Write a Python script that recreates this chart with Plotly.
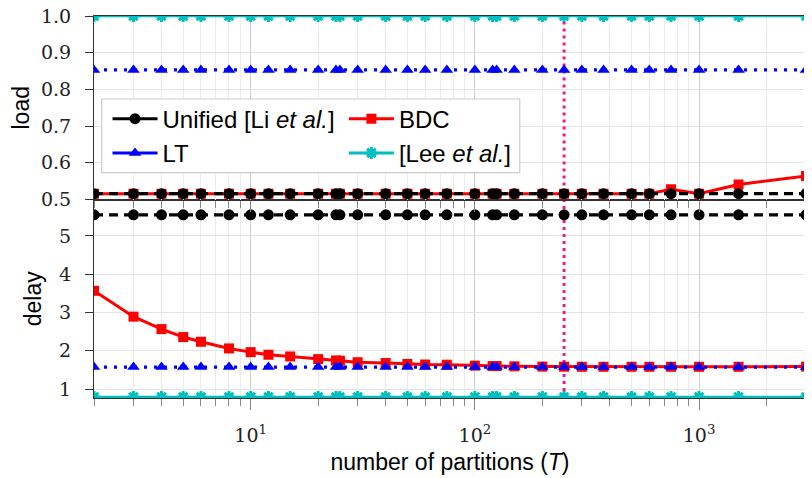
import plotly.graph_objects as go
import math

# ---------------- data ----------------
T = [2, 3, 4, 5, 6, 8, 10, 12, 15, 20, 24, 25, 30, 40, 50, 60, 75, 100, 120, 125,
     150, 200, 250, 300, 375, 500, 600, 750, 1000, 1500, 3000]

load_unified = [0.516, 0.516, 0.516, 0.516, 0.516, 0.516, 0.516, 0.516, 0.516, 0.516, 0.516,
                0.516, 0.516, 0.516, 0.516, 0.516, 0.516, 0.516, 0.516, 0.516, 0.516, 0.516,
                0.516, 0.516, 0.516, 0.516, 0.516, 0.516, 0.516, 0.516, 0.516]
load_bdc = [0.516, 0.516, 0.516, 0.516, 0.516, 0.516, 0.516, 0.516, 0.516, 0.516, 0.516,
            0.516, 0.516, 0.516, 0.516, 0.516, 0.516, 0.516, 0.516, 0.516, 0.516, 0.516,
            0.516, 0.516, 0.516, 0.516, 0.516, 0.528, 0.516, 0.541, 0.564]
load_lt = [0.853, 0.853, 0.853, 0.853, 0.853, 0.853, 0.853, 0.853, 0.853, 0.853, 0.853,
           0.853, 0.853, 0.853, 0.853, 0.853, 0.853, 0.853, 0.853, 0.853, 0.853, 0.853,
           0.853, 0.853, 0.853, 0.853, 0.853, 0.853, 0.853, 0.853, 0.853]
load_lee = [1.0, 1.0, 1.0, 1.0, 1.0, 1.0, 1.0, 1.0, 1.0, 1.0, 1.0,
            1.0, 1.0, 1.0, 1.0, 1.0, 1.0, 1.0, 1.0, 1.0, 1.0, 1.0,
            1.0, 1.0, 1.0, 1.0, 1.0, 1.0, 1.0, 1.0, 1.0]

delay_unified = [5.55, 5.55, 5.55, 5.55, 5.55, 5.55, 5.55, 5.55, 5.55, 5.55, 5.55,
                 5.55, 5.55, 5.55, 5.55, 5.55, 5.55, 5.55, 5.55, 5.55, 5.55, 5.55,
                 5.55, 5.55, 5.55, 5.55, 5.55, 5.55, 5.55, 5.55, 5.55]
delay_bdc = [3.565, 2.89, 2.565, 2.357, 2.234, 2.06, 1.963, 1.895, 1.85, 1.78, 1.745,
             1.74, 1.70, 1.68, 1.655, 1.64, 1.635, 1.61, 1.60, 1.60, 1.592, 1.585,
             1.582, 1.58, 1.58, 1.58, 1.58, 1.58, 1.58, 1.58, 1.585]
delay_lt = [1.572, 1.572, 1.572, 1.572, 1.572, 1.572, 1.572, 1.572, 1.572, 1.572, 1.572,
            1.572, 1.572, 1.572, 1.572, 1.572, 1.572, 1.572, 1.572, 1.572, 1.572, 1.572,
            1.572, 1.572, 1.572, 1.572, 1.572, 1.572, 1.572, 1.572, 1.572]
delay_lee = [0.79, 0.79, 0.79, 0.79, 0.79, 0.79, 0.79, 0.79, 0.79, 0.79, 0.79,
             0.79, 0.79, 0.79, 0.79, 0.79, 0.79, 0.79, 0.79, 0.79, 0.79, 0.79,
             0.79, 0.79, 0.79, 0.79, 0.79, 0.79, 0.79, 0.79, 0.79]

T_MARK = 250
LOAD_RANGE = [0.5, 1.0]
DELAY_RANGE = [0.765, 5.95]
X_RANGE = [2, 3000]

x_tickvals = [10, 100, 1000]
x_ticktext = ["10<sup>1</sup>", "10<sup>2</sup>", "10<sup>3</sup>"]
load_ticks = [0.5, 0.6, 0.7, 0.8, 0.9, 1.0]
load_ticktext = ["0.5", "0.6", "0.7", "0.8", "0.9", "1.0"]
delay_ticks = [1, 2, 3, 4, 5]
delay_ticktext = ["1", "2", "3", "4", "5"]

names = ["Unified [Li <i>et al.</i>]", "BDC", "LT", "[Lee <i>et al.</i>]"]

# ---------------- styles ----------------
C_BLACK = "#000000"
C_RED = "#FF0000"
C_BLUE = "#0000FF"
C_CYAN = "#00BFBF"
C_PINK = "#EE1A8C"

sty = {
    "uni": dict(line=dict(color=C_BLACK, width=3.2, dash="9px,6px"),
                marker=dict(symbol="circle", size=11, color=C_BLACK)),
    "bdc": dict(line=dict(color=C_RED, width=3),
                marker=dict(symbol="square", size=10, color=C_RED)),
    "lt": dict(line=dict(color=C_BLUE, width=3.2, dash="3px,7px"),
               marker=dict(symbol="triangle-up", size=11, color=C_BLUE)),
    "lee": dict(line=dict(color=C_CYAN, width=2.5),
                marker=dict(symbol="asterisk-open", size=10,
                            line=dict(color=C_CYAN, width=3))),
}

SANS = "Liberation Sans"
SERIF = "DejaVu Serif"
TICK_FONT = dict(family=SERIF, size=19, color="#222222")
TITLE_FONT = dict(family=SANS, size=23, color="black")
LEG_FONT = dict(family=SANS, size=24, color="black")

fig = go.Figure()

# vertical marker line (drawn first, under data)
fig.add_trace(go.Scatter(x=[T_MARK, T_MARK], y=LOAD_RANGE, xaxis="x2", yaxis="y2",
                         mode="lines", line=dict(color=C_PINK, width=3, dash="3px,4px"),
                         showlegend=False, hoverinfo="skip"))
fig.add_trace(go.Scatter(x=[T_MARK, T_MARK], y=DELAY_RANGE, xaxis="x", yaxis="y",
                         mode="lines", line=dict(color=C_PINK, width=3, dash="3px,4px"),
                         showlegend=False, hoverinfo="skip"))

series = [
    ("bdc", load_bdc, delay_bdc),
    ("uni", load_unified, delay_unified),
    ("lt", load_lt, delay_lt),
    ("lee", load_lee, delay_lee),
]
for key, ld, dl in series:
    fig.add_trace(go.Scatter(x=T, y=ld, xaxis="x2", yaxis="y2", mode="lines+markers",
                             showlegend=False, **sty[key]))
    fig.add_trace(go.Scatter(x=T, y=dl, xaxis="x", yaxis="y", mode="lines+markers",
                             showlegend=False, **sty[key]))

# legend entries (solid lines as in the original legend)
leg_items = [("uni", names[0], "legend"), ("lt", names[2], "legend"),
             ("bdc", names[1], "legend2"), ("lee", names[3], "legend2")]
for key, nm, lg in leg_items:
    s = sty[key]
    ln = dict(color=s["line"]["color"], width=3)
    fig.add_trace(go.Scatter(x=[None], y=[None], xaxis="x", yaxis="y", mode="lines+markers",
                             name=nm, line=ln, marker=s["marker"], legend=lg))

split = 0.5196
grid_c = "#E4E4E4"
axis_c = "#333333"

common_x = dict(type="log", range=[math.log10(X_RANGE[0]), math.log10(X_RANGE[1])],
                showline=True, linecolor=axis_c, linewidth=1.2, mirror=True,
                tickmode="array", tickvals=x_tickvals, ticktext=x_ticktext, automargin=False,
                ticks="outside", ticklen=11, tickcolor="#888888", tickwidth=1.2,
                showgrid=True, gridcolor="#CFCFCF", gridwidth=1,
                minor=dict(dtick="D1", ticks="outside", ticklen=7, tickcolor="#888888",
                           showgrid=True, gridcolor="#EBEBEB", gridwidth=1),
                zeroline=False, tickfont=TICK_FONT)

common_y = dict(automargin=False, showline=True, linecolor=axis_c, linewidth=1.2, mirror=True,
                ticks="outside", ticklen=8, tickcolor=axis_c, ticklabelstandoff=10,
                ticklabeloverflow="allow", tickmode="array",
                showgrid=True, gridcolor=grid_c, zeroline=False, tickfont=TICK_FONT)

# the page adds an 8px body margin, so the figure is sized to fit the window
fig.update_layout(
    width=804, height=470,
    margin=dict(l=86, r=6, t=8, b=80, autoexpand=False),
    paper_bgcolor="white", plot_bgcolor="white",
    font=dict(family=SANS, size=21, color="black"),
    xaxis=dict(**common_x, anchor="y", ticklabelstandoff=9,
               title=dict(text="number of partitions (<i>T</i>)", font=TITLE_FONT, standoff=8)),
    xaxis2=dict(**common_x, anchor="y2", matches="x", showticklabels=False),
    yaxis=dict(**common_y, domain=[0, split], range=DELAY_RANGE,
               tickvals=delay_ticks, ticktext=delay_ticktext,
               title=dict(text="delay", font=TITLE_FONT, standoff=10)),
    yaxis2=dict(**common_y, domain=[split, 1], range=LOAD_RANGE, anchor="x2",
                tickvals=load_ticks, ticktext=load_ticktext,
                title=dict(text="load", font=TITLE_FONT, standoff=10)),
    legend=dict(x=0.019, y=0.789, xanchor="left", yanchor="top",
                bgcolor="rgba(0,0,0,0)", borderwidth=0, itemwidth=45,
                font=LEG_FONT, tracegroupgap=0),
    legend2=dict(x=0.351, y=0.789, xanchor="left", yanchor="top",
                 bgcolor="rgba(0,0,0,0)", borderwidth=0, itemwidth=45,
                 font=LEG_FONT, tracegroupgap=0),
    shapes=[dict(type="rect", xref="paper", yref="paper",
                 x0=0.0108, x1=0.598, y0=0.5898, y1=0.7827,
                 fillcolor="white", line=dict(color="#CCCCCC", width=1.2), layer="above")],
)

fig.write_html("out.html")
